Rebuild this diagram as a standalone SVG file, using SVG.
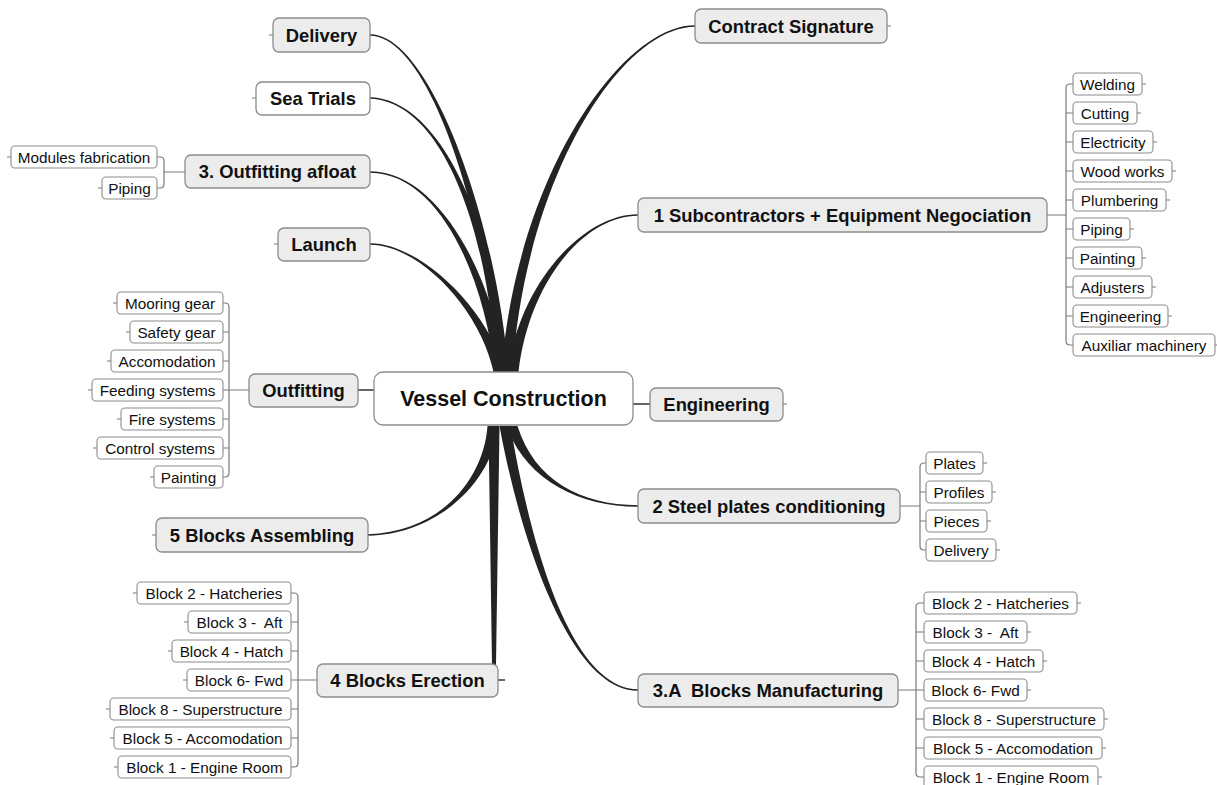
<svg xmlns="http://www.w3.org/2000/svg" width="1217" height="785" viewBox="0 0 1217 785">
<style>
text{font-family:"Liberation Sans",Arial,sans-serif;fill:#111;text-anchor:middle;white-space:pre}
.m rect{fill:#ececec;stroke:#8c8c8c;stroke-width:1.3}
.w rect{fill:#fff;stroke:#8c8c8c;stroke-width:1.3}
.m text,.w text{font-weight:bold;font-size:18.4px}
.s rect{fill:#fff;stroke:#8c8c8c;stroke-width:1.1}
.s text{font-size:15.3px}
.br{fill:#232323;stroke:none}
.ln{fill:none;stroke:#7a7a7a;stroke-width:1.2}
.tl{fill:none;stroke:#333;stroke-width:1.3}
</style>
<rect width="1217" height="785" fill="#fff"/>
<g id="connectors">
<path class="br" d="M370,34.2 C430,34 496.5,220 508.5,372 L497.5,372 C487.5,220 430,36 370,35.8 Z"/>
<path class="br" d="M370,97.2 C445,99 499.5,240 506.5,372 L495.5,372 C490.5,240 445,101 370,98.8 Z"/>
<path class="br" d="M370,171.2 C440,171 494.5,280 505.5,372 L494.5,372 C485.5,280 440,173 370,172.8 Z"/>
<path class="br" d="M370,243.2 C420,243 489.5,310 504.5,372 L493.5,372 C480.5,310 420,245 370,244.8 Z"/>
<path class="br" d="M695,25.2 C620,25 515.5,180 501.5,372 L512.5,372 C524.5,180 620,27 695,26.8 Z"/>
<path class="br" d="M638,214.2 C585,214 520.5,280 507.5,372 L518.5,372 C529.5,280 585,216 638,215.8 Z"/>
<path class="br" d="M368,535.8 C440,534 492.5,480 498.5,426 L487.5,426 C483.5,480 440,532 368,534.2 Z"/>
<path class="br" d="M638,506.8 C580,507 525.5,480 506.5,426 L517.5,426 C534.5,480 580,505 638,505.2 Z"/>
<path class="br" d="M638,690.8 C570,691 520.5,540 499.5,426 L510.5,426 C529.5,540 570,689 638,689.2 Z"/>
<path class="br" d="M488.5,426 L499.5,426 L495.8,679 L492.2,679 Z"/>
<path class="tl" d="M494,676 V680 H505"/>
<path class="tl" d="M358,390 H374 M633,404 H650"/>
<path class="ln" d="M1047,215 H1066 M1073,84 H1070 Q1066,84 1066,88 V341 Q1066,345 1070,345 H1073 M1066,113 H1073 M1066,142 H1073 M1066,171 H1073 M1066,200 H1073 M1066,229 H1073 M1066,258 H1073 M1066,287 H1073 M1066,316 H1073"/>
<path class="ln" d="M900,506 H920 M926,463 H924 Q920,463 920,467 V546 Q920,550 924,550 H926 M920,492 H926 M920,521 H926"/>
<path class="ln" d="M898,690 H916 M924,603 H920 Q916,603 916,607 V773 Q916,777 920,777 H924 M916,632 H924 M916,661 H924 M916,690 H924 M916,719 H924 M916,748 H924"/>
<path class="ln" d="M249,390 H229 M223,303 H225 Q229,303 229,307 V473 Q229,477 225,477 H223 M223,332 H229 M223,361 H229 M223,390 H229 M223,419 H229 M223,448 H229"/>
<path class="ln" d="M317,680 H298 M291,593 H294 Q298,593 298,597 V763 Q298,767 294,767 H291 M291,622 H298 M291,651 H298 M291,680 H298 M291,709 H298 M291,738 H298"/>
<path class="ln" d="M185,172 H164 M157,157 H160 Q164,157 164,161 V184 Q164,188 160,188 H157"/>
<path class="ln" d="M269,35 H273 M252,98 H256 M274,244 H278 M152,535 H156 M887,26 H891 M783,404 H787
M1142,84 H1146 M1137,113 H1141 M1153,142 H1157 M1172,171 H1176 M1166,200 H1170 M1130,229 H1134 M1142,258 H1146 M1152,287 H1156 M1168,316 H1172 M1215,345 H1217
M983,463 H987 M992,492 H996 M987,521 H991 M996,550 H1000
M1077,603 H1081 M1027,632 H1031 M1043,661 H1047 M1027,690 H1031 M1104,719 H1108 M1102,748 H1106 M1098,777 H1102
M113,303 H117 M126,332 H130 M107,361 H111 M88,390 H92 M117,419 H121 M93,448 H97 M150,477 H154
M133,593 H137 M184,622 H188 M168,651 H172 M183,680 H187 M106,709 H110 M110,738 H114 M114,767 H118
M7,157 H11 M98,188 H102"/>
</g>
<g id="n-central" class="w"><rect x="374" y="372" width="259" height="53" rx="9"/><text x="503.5" y="406" style="font-size:21.5px">Vessel Construction</text></g>
<g id="n-engineering" class="m"><rect x="650" y="388" width="133" height="33" rx="6"/><text x="716.5" y="411">Engineering</text></g>
<g id="n-contract" class="m"><rect x="695" y="9" width="192" height="34" rx="6"/><text x="791" y="32.5">Contract Signature</text></g>
<g id="n-subcontractors" class="m"><rect x="638" y="198" width="409" height="34" rx="6"/><text x="842.5" y="221.5">1 Subcontractors + Equipment Negociation</text></g>
<g id="n-steel" class="m"><rect x="638" y="489" width="262" height="34" rx="6"/><text x="769" y="512.5">2 Steel plates conditioning</text></g>
<g id="n-blocksmfg" class="m"><rect x="638" y="674" width="260" height="33" rx="6"/><text x="768" y="697">3.A  Blocks Manufacturing</text></g>
<g id="n-delivery" class="m"><rect x="273" y="18" width="97" height="34" rx="6"/><text x="321.5" y="41.5">Delivery</text></g>
<g id="n-seatrials" class="w"><rect x="256" y="82" width="114" height="33" rx="6"/><text x="313" y="105">Sea Trials</text></g>
<g id="n-afloat" class="m"><rect x="185" y="155" width="185" height="33" rx="6"/><text x="277.5" y="178">3. Outfitting afloat</text></g>
<g id="n-launch" class="m"><rect x="278" y="228" width="92" height="33" rx="6"/><text x="324" y="251">Launch</text></g>
<g id="n-outfitting" class="m"><rect x="249" y="374" width="109" height="33" rx="6"/><text x="303.5" y="397">Outfitting</text></g>
<g id="n-assembling" class="m"><rect x="156" y="518" width="212" height="34" rx="6"/><text x="262" y="541.5">5 Blocks Assembling</text></g>
<g id="n-erection" class="m"><rect x="317" y="664" width="181" height="33" rx="6"/><text x="407.5" y="687">4 Blocks Erection</text></g>

<g id="n-welding" class="s"><rect x="1073" y="73" width="69" height="22" rx="4"/><text x="1107.5" y="89.5">Welding</text></g>
<g id="n-cutting" class="s"><rect x="1073" y="102" width="64" height="22" rx="4"/><text x="1105" y="118.5">Cutting</text></g>
<g id="n-electricity" class="s"><rect x="1073" y="131" width="80" height="22" rx="4"/><text x="1113" y="147.5">Electricity</text></g>
<g id="n-woodworks" class="s"><rect x="1073" y="160" width="99" height="22" rx="4"/><text x="1122.5" y="176.5">Wood works</text></g>
<g id="n-plumbering" class="s"><rect x="1073" y="189" width="93" height="22" rx="4"/><text x="1119.5" y="205.5">Plumbering</text></g>
<g id="n-piping1" class="s"><rect x="1073" y="218" width="57" height="22" rx="4"/><text x="1101.5" y="234.5">Piping</text></g>
<g id="n-painting1" class="s"><rect x="1073" y="247" width="69" height="22" rx="4"/><text x="1107.5" y="263.5">Painting</text></g>
<g id="n-adjusters" class="s"><rect x="1073" y="276" width="79" height="22" rx="4"/><text x="1112.5" y="292.5">Adjusters</text></g>
<g id="n-engineering2" class="s"><rect x="1073" y="305" width="95" height="22" rx="4"/><text x="1120.5" y="321.5">Engineering</text></g>
<g id="n-auxiliar" class="s"><rect x="1073" y="334" width="142" height="22" rx="4"/><text x="1144" y="350.5">Auxiliar machinery</text></g>

<g id="n-mooring" class="s"><rect x="117" y="292" width="106" height="22" rx="4"/><text x="170" y="308.5">Mooring gear</text></g>
<g id="n-safety" class="s"><rect x="130" y="321" width="93" height="22" rx="4"/><text x="176.5" y="337.5">Safety gear</text></g>
<g id="n-accomodation" class="s"><rect x="111" y="350" width="112" height="22" rx="4"/><text x="167" y="366.5">Accomodation</text></g>
<g id="n-feeding" class="s"><rect x="92" y="379" width="131" height="22" rx="4"/><text x="157.5" y="395.5">Feeding systems</text></g>
<g id="n-fire" class="s"><rect x="121" y="408" width="102" height="22" rx="4"/><text x="172" y="424.5">Fire systems</text></g>
<g id="n-control" class="s"><rect x="97" y="437" width="126" height="22" rx="4"/><text x="160" y="453.5">Control systems</text></g>
<g id="n-painting2" class="s"><rect x="154" y="466" width="69" height="22" rx="4"/><text x="188.5" y="482.5">Painting</text></g>

<g id="n-modules" class="s"><rect x="11" y="146" width="146" height="22" rx="4"/><text x="84" y="162.5">Modules fabrication</text></g>
<g id="n-piping2" class="s"><rect x="102" y="177" width="55" height="22" rx="4"/><text x="129.5" y="193.5">Piping</text></g>

<g id="n-plates" class="s"><rect x="926" y="452" width="57" height="22" rx="4"/><text x="954.5" y="468.5">Plates</text></g>
<g id="n-profiles" class="s"><rect x="926" y="481" width="66" height="22" rx="4"/><text x="959" y="497.5">Profiles</text></g>
<g id="n-pieces" class="s"><rect x="926" y="510" width="61" height="22" rx="4"/><text x="956.5" y="526.5">Pieces</text></g>
<g id="n-delivery2" class="s"><rect x="926" y="539" width="70" height="22" rx="4"/><text x="961" y="555.5">Delivery</text></g>

<g id="n-m-b2" class="s"><rect x="924" y="592" width="153" height="22" rx="4"/><text x="1000.5" y="608.5">Block 2 - Hatcheries</text></g>
<g id="n-m-b3" class="s"><rect x="924" y="621" width="103" height="22" rx="4"/><text x="975.5" y="637.5">Block 3 -  Aft</text></g>
<g id="n-m-b4" class="s"><rect x="924" y="650" width="119" height="22" rx="4"/><text x="983.5" y="666.5">Block 4 - Hatch</text></g>
<g id="n-m-b6" class="s"><rect x="924" y="679" width="103" height="22" rx="4"/><text x="975.5" y="695.5">Block 6- Fwd</text></g>
<g id="n-m-b8" class="s"><rect x="924" y="708" width="180" height="22" rx="4"/><text x="1014" y="724.5">Block 8 - Superstructure</text></g>
<g id="n-m-b5" class="s"><rect x="924" y="737" width="178" height="22" rx="4"/><text x="1013" y="753.5">Block 5 - Accomodation</text></g>
<g id="n-m-b1" class="s"><rect x="924" y="766" width="174" height="22" rx="4"/><text x="1011" y="782.5">Block 1 - Engine Room</text></g>

<g id="n-e-b2" class="s"><rect x="137" y="582" width="154" height="22" rx="4"/><text x="214" y="598.5">Block 2 - Hatcheries</text></g>
<g id="n-e-b3" class="s"><rect x="188" y="611" width="103" height="22" rx="4"/><text x="239.5" y="627.5">Block 3 -  Aft</text></g>
<g id="n-e-b4" class="s"><rect x="172" y="640" width="119" height="22" rx="4"/><text x="231.5" y="656.5">Block 4 - Hatch</text></g>
<g id="n-e-b6" class="s"><rect x="187" y="669" width="104" height="22" rx="4"/><text x="239" y="685.5">Block 6- Fwd</text></g>
<g id="n-e-b8" class="s"><rect x="110" y="698" width="181" height="22" rx="4"/><text x="200.5" y="714.5">Block 8 - Superstructure</text></g>
<g id="n-e-b5" class="s"><rect x="114" y="727" width="177" height="22" rx="4"/><text x="202.5" y="743.5">Block 5 - Accomodation</text></g>
<g id="n-e-b1" class="s"><rect x="118" y="756" width="173" height="22" rx="4"/><text x="204.5" y="772.5">Block 1 - Engine Room</text></g>
</svg>
